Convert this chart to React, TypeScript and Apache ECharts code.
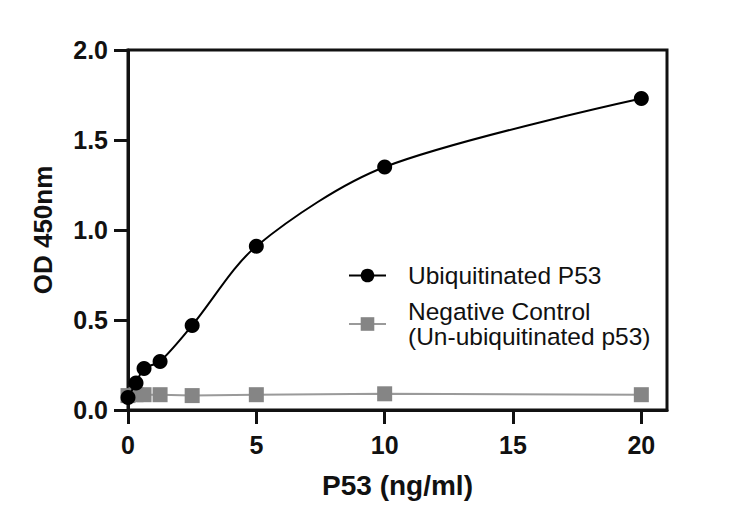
import { useEffect, useRef } from 'react';
import * as echarts from 'echarts';

// P53 concentration (ng/ml)
const concentrations = [0, 0.3125, 0.625, 1.25, 2.5, 5, 10, 20];
// OD 450nm readings
const ubiquitinatedOD = [0.07, 0.15, 0.23, 0.27, 0.47, 0.91, 1.35, 1.73];
const negativeControlOD = [0.08, 0.085, 0.085, 0.085, 0.08, 0.085, 0.09, 0.085];

const xTicks = [0, 5, 10, 15, 20];
const yTicks = [0, 0.5, 1.0, 1.5, 2.0];

const seriesNames = ['Ubiquitinated P53', 'Negative Control'];
const legendLabels = ['Ubiquitinated P53', 'Negative Control\n(Un-ubiquitinated p53)'];

const FONT = 'Liberation Sans, Arial, Helvetica, sans-serif';

const toPairs = (ys: number[]) => concentrations.map((x, i) => [x, ys[i]]);

export default function App() {
    const chartRef = useRef<HTMLDivElement>(null);

    useEffect(() => {
        if (!chartRef.current) return;
        const chart = echarts.init(chartRef.current, undefined, { renderer: 'svg' });

        const legendText = {
            fontFamily: FONT,
            fontSize: 24.5,
            lineHeight: 25,
            color: '#111',
            padding: [0, 0, 0, 17]
        };

        chart.setOption({
            animation: false,
            backgroundColor: '#fff',
            grid: {
                left: 128,
                right: 83,
                top: 50,
                bottom: 121,
                show: true,
                borderColor: '#111',
                borderWidth: 3,
                backgroundColor: 'transparent'
            },
            legend: [
                {
                    data: [seriesNames[0]],
                    left: 348,
                    top: 263,
                    padding: 0,
                    itemWidth: 37,
                    itemHeight: 17,
                    selectedMode: false,
                    formatter: () => legendLabels[0],
                    textStyle: legendText
                },
                {
                    data: [seriesNames[1]],
                    left: 348,
                    top: 299,
                    padding: 0,
                    itemWidth: 37,
                    itemHeight: 17,
                    selectedMode: false,
                    formatter: () => legendLabels[1],
                    textStyle: legendText
                }
            ],
            xAxis: {
                type: 'value',
                min: 0,
                max: 21,
                interval: 5,
                name: 'P53 (ng/ml)',
                nameLocation: 'middle',
                nameGap: 61,
                nameTextStyle: { fontFamily: FONT, fontSize: 28, fontWeight: 'bold', color: '#111' },
                axisLine: { onZero: false, lineStyle: { color: '#111', width: 3 } },
                axisTick: { length: 14, lineStyle: { color: '#111', width: 3 }, customValues: xTicks },
                axisLabel: {
                    customValues: xTicks,
                    margin: 22,
                    fontFamily: FONT,
                    fontSize: 25,
                    fontWeight: 'bold',
                    color: '#111'
                },
                splitLine: { show: false }
            },
            yAxis: {
                type: 'value',
                min: 0,
                max: 2,
                interval: 0.5,
                name: 'OD 450nm',
                nameLocation: 'middle',
                nameGap: 72,
                nameTextStyle: { fontFamily: FONT, fontSize: 26, fontWeight: 'bold', color: '#111' },
                axisLine: { show: true, onZero: false, lineStyle: { color: '#111', width: 3 } },
                axisTick: { show: true, length: 14, lineStyle: { color: '#111', width: 3 }, customValues: yTicks },
                axisLabel: {
                    customValues: yTicks,
                    margin: 20,
                    fontFamily: FONT,
                    fontSize: 25,
                    fontWeight: 'bold',
                    color: '#111',
                    formatter: (v: number) => v.toFixed(1)
                },
                splitLine: { show: false }
            },
            series: [
                {
                    name: seriesNames[1],
                    type: 'line',
                    data: toPairs(negativeControlOD),
                    symbol: 'rect',
                    symbolSize: 15,
                    z: 2,
                    itemStyle: { color: '#858585' },
                    lineStyle: { color: '#9a9a9a', width: 2 }
                },
                {
                    name: seriesNames[0],
                    type: 'line',
                    data: toPairs(ubiquitinatedOD),
                    symbol: 'circle',
                    symbolSize: 15,
                    smooth: 0.3,
                    z: 3,
                    itemStyle: { color: '#000' },
                    lineStyle: { color: '#000', width: 2 }
                }
            ]
        });

        return () => {
            chart.dispose();
        };
    }, []);

    return (
        <div
            ref={chartRef}
            style={{ position: 'absolute', left: 0, top: 0, width: 750, height: 531 }}
        />
    );
}
